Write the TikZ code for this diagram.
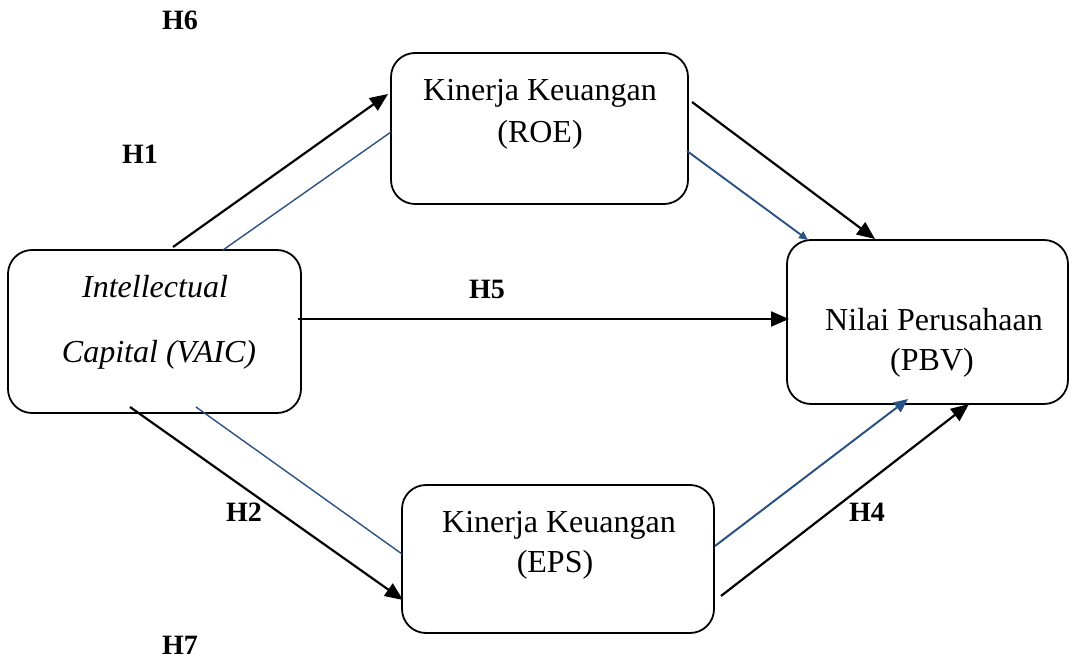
\documentclass[tikz,border=0pt]{standalone}
\usepackage{fontspec}
\setmainfont{Liberation Serif}
\usetikzlibrary{arrows.meta}
\definecolor{lineblue}{HTML}{2B5285}
\begin{document}
\begin{tikzpicture}[x=1pt,y=-1pt,
  box/.style={draw, line width=1.8pt, rounded corners=24pt, inner sep=0pt},
  txt/.style={anchor=base, font=\fontsize{32}{32}\selectfont, inner sep=0pt},
  hyp/.style={font=\fontsize{28}{28}\selectfont\bfseries, inner sep=0pt},
  blk/.style={line width=2.2pt, -{Triangle[length=18pt,width=15pt]}},
  blu/.style={lineblue, line width=1.4pt},
  bluarr/.style={lineblue, line width=2pt, -{Triangle[length=14pt,width=12pt]}}]
\useasboundingbox (0,0) rectangle (1073,660);

% boxes
\node[box, minimum width=293pt, minimum height=163pt] (vaic) at (154.5,331.5) {};
\node[box, minimum width=297pt, minimum height=151pt] (roe) at (539.5,128.5) {};
\node[box, minimum width=281pt, minimum height=164pt] (pbv) at (927.5,322) {};
\node[box, minimum width=312pt, minimum height=148pt] (eps) at (558,559) {};

% texts
\node[txt] (t1) at (155,298) {\itshape Intellectual};
\node[txt] (t2) at (159,362) {\itshape Capital (VAIC)};
\node[txt] (t3) at (540,101) {Kinerja Keuangan};
\node[txt] (t4) at (540,143) {(ROE)};
\node[txt] (t5) at (934,330) {Nilai Perusahaan};
\node[txt] (t6) at (932,370) {(PBV)};
\node[txt] (t7) at (559,532) {Kinerja Keuangan};
\node[txt] (t8) at (555,572) {(EPS)};

% hypothesis labels
\node[hyp] (h6) at (180,20) {H6};
\node[hyp] (h1) at (140,154) {H1};
\node[hyp] (h5) at (487,289) {H5};
\node[hyp] (h2) at (244,512) {H2};
\node[hyp] (h4) at (867,512) {H4};
\node[hyp] (h7) at (180,645) {H7};

% connector end points
\coordinate (a1) at (173,247);  \coordinate (a2) at (388,94);
\coordinate (b1) at (223,250);  \coordinate (b2) at (391,132);
\coordinate (c1) at (692,102);  \coordinate (c2) at (875,239);
\coordinate (d1) at (687,151);  \coordinate (d2) at (808,240);
\coordinate (e1) at (298,319);  \coordinate (e2) at (789,319);
\coordinate (f1) at (130,407);  \coordinate (f2) at (403,600);
\coordinate (g1) at (196,407);  \coordinate (g2) at (402,554);
\coordinate (k1) at (715,546);  \coordinate (k2) at (908,399);
\coordinate (m1) at (721,596);  \coordinate (m2) at (969,404);

% connectors
\draw[blk] (a1) -- (a2);
\draw[blu] (b1) -- (b2);
\draw[blk] (c1) -- (c2);
\draw[lineblue, line width=1.9pt, -{Triangle[length=9pt,width=8pt]}] (d1) -- (d2);
\draw[blk] (e1) -- (e2);
\draw[blk] (f1) -- (f2);
\draw[blu] (g1) -- (g2);
\draw[bluarr] (k1) -- (k2);
\draw[blk] (m1) -- (m2);
\end{tikzpicture}
\end{document}
